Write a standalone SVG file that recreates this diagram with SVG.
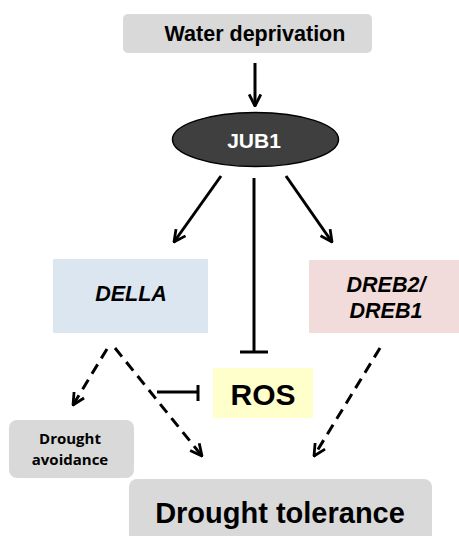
<svg xmlns="http://www.w3.org/2000/svg" width="459" height="536" viewBox="0 0 459 536">
<defs>
<style>
.lbl{font-family:"Liberation Sans",Arial,sans-serif;font-weight:bold;text-anchor:middle;fill:#000}
.cal{font-family:"Open Sans","Liberation Sans",sans-serif;font-weight:bold;text-anchor:middle;fill:#000}
.ln{stroke:#000;stroke-width:3;fill:none}
.dash{stroke:#000;stroke-width:3;fill:none;stroke-dasharray:11,7}
</style>
<marker id="ah" viewBox="0 0 12 12" refX="11" refY="6" markerWidth="14" markerHeight="14" markerUnits="userSpaceOnUse" orient="auto">
<path d="M1,1 L11,6 L1,11" fill="none" stroke="#000" stroke-width="2.4"/>
</marker>
</defs>
<g id="water">
<rect x="123" y="14" width="249" height="39" rx="5" fill="#d9d9d9"/>
<text class="lbl" x="255" y="41" font-size="21.5">Water deprivation</text>
</g>
<g id="jub1">
<ellipse cx="255.5" cy="139.5" rx="83" ry="27" fill="#3f3f3f" stroke="#000" stroke-width="1.5"/>
<text class="lbl" x="254" y="148" font-size="21" style="fill:#fff">JUB1</text>
</g>
<g id="della">
<rect x="53" y="259" width="155" height="74" fill="#dce6f1"/>
<text class="lbl" x="131" y="301" font-size="21.5" font-style="italic">DELLA</text>
</g>
<g id="dreb">
<rect x="309" y="260" width="150" height="73" fill="#f2dcdb"/>
<text class="lbl" x="386" y="292" font-size="21.5" font-style="italic">DREB2/</text>
<text class="lbl" x="386" y="318" font-size="21.5" font-style="italic">DREB1</text>
</g>
<g id="ros">
<rect x="213" y="368" width="100" height="50" fill="#ffffcc"/>
<text class="lbl" x="263" y="405" font-size="30">ROS</text>
</g>
<g id="avoidance">
<rect x="9" y="420" width="125" height="58" rx="8" fill="#d9d9d9"/>
<text class="cal" x="70" y="444" font-size="15">Drought</text>
<text class="cal" x="70" y="465" font-size="15">avoidance</text>
</g>
<g id="tolerance">
<rect x="129" y="479" width="303" height="70" rx="8" fill="#d9d9d9"/>
<text class="lbl" x="280" y="523" font-size="29">Drought tolerance</text>
</g>
<g id="connectors">
<line class="ln" x1="255" y1="63" x2="255" y2="106" marker-end="url(#ah)"/>
<line class="ln" x1="221" y1="176" x2="174" y2="242" marker-end="url(#ah)"/>
<line class="ln" x1="286" y1="176" x2="332" y2="242" marker-end="url(#ah)"/>
<line class="ln" x1="254" y1="178" x2="254" y2="352"/>
<line class="ln" x1="240" y1="352" x2="268" y2="352"/>
<line class="ln" x1="157" y1="392" x2="198" y2="392"/>
<line class="ln" x1="198" y1="385" x2="198" y2="401"/>
<line class="dash" x1="107" y1="349" x2="73" y2="405" marker-end="url(#ah)"/>
<line class="dash" x1="115" y1="348" x2="202" y2="456" marker-end="url(#ah)"/>
<line class="dash" x1="380" y1="348" x2="314" y2="456" marker-end="url(#ah)"/>
</g>
</svg>
